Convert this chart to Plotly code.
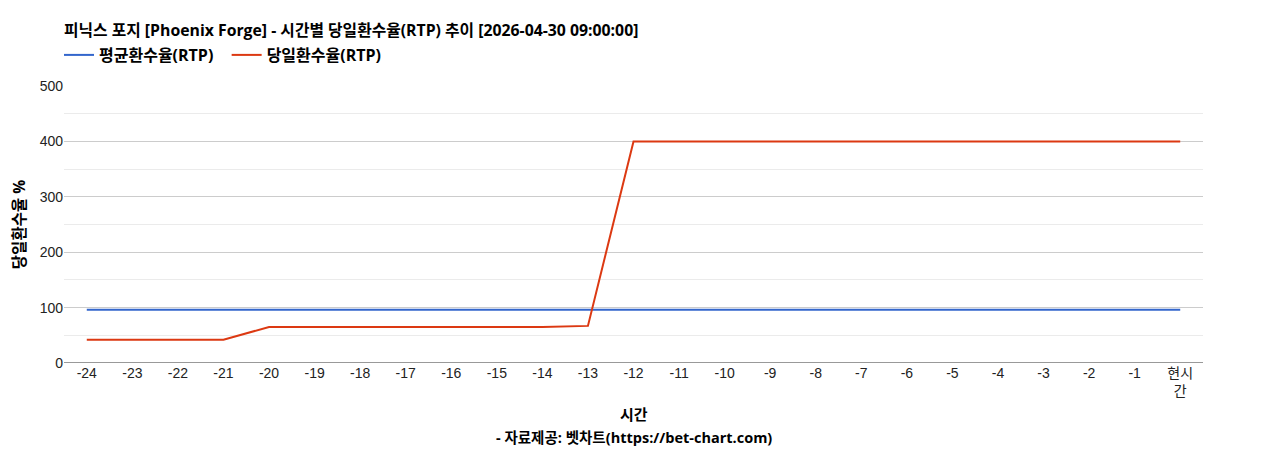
import plotly.graph_objects as go

# 시간 축 (24시간 전 ~ 현재)
hours = [str(h) for h in range(-24, 0)] + ['현시<br>간']

avg_rtp = [96] * 25
day_rtp = [42, 42, 42, 42, 65, 65, 65, 65, 65, 65, 65, 67,
           400, 400, 400, 400, 400, 400, 400, 400, 400, 400, 400, 400, 400]

FONT = 'Liberation Sans, Arial, Noto Sans CJK KR, sans-serif'
BOLD = 'Open Sans, Noto Sans CJK KR, sans-serif'

# 페이지 body 여백(8px) 보정
L, T, R, B = 56, 78, 1195, 355
H = B - T

fig = go.Figure()
fig.add_trace(go.Scatter(x=hours, y=avg_rtp, mode='lines', name='<b>평균환수율(RTP)</b>\u00a0\u00a0',
                         line=dict(color='#3366cc', width=2)))
fig.add_trace(go.Scatter(x=hours, y=day_rtp, mode='lines', name='<b>당일환수율(RTP)</b>',
                         line=dict(color='#dc3912', width=2)))

fig.update_layout(
    width=1268, height=450,
    margin=dict(l=L, r=1268 - R, t=T, b=450 - B),
    paper_bgcolor='white', plot_bgcolor='white',
    font=dict(family=FONT, size=14, color='#222222'),
    title=dict(text='<b>피닉스 포지 [Phoenix Forge] - 시간별 당일환수율(RTP) 추이 [2026-04-30 09:00:00]</b>',
               x=L / 1268, xanchor='left', y=1 - 22 / 450, yanchor='middle',
               font=dict(family=BOLD, size=15.8, color='#000000')),
    legend=dict(orientation='h', x=-5 / (R - L), xanchor='left', y=1 + 31 / H, yanchor='middle',
                font=dict(family=BOLD, size=16, color='#000000'), itemwidth=30, traceorder='normal'),
    showlegend=True,
)
fig.update_xaxes(type='category', range=[-0.5, 24.5], showgrid=False, showline=False,
                 ticks='', tickfont=dict(size=14, color='#222222'), automargin=False)
fig.update_yaxes(range=[0, 500], dtick=100, showgrid=True, gridcolor='#cccccc',
                 minor=dict(dtick=50, showgrid=True, gridcolor='#ebebeb'),
                 zeroline=False, showline=False, ticks='', automargin=False,
                 tickfont=dict(size=14, color='#222222'),
                 title=dict(text='<b>당일환수율 %</b>', standoff=13,
                            font=dict(family=BOLD, size=15.5, color='#000000')))
fig.add_shape(type='line', xref='paper', yref='y', x0=0, x1=1, y0=0, y1=0,
              line=dict(color='#333333', width=1))
fig.add_annotation(text='<b>시간</b>', xref='paper', yref='paper',
                   x=0.5, y=-51 / H, xanchor='center', yanchor='middle', showarrow=False,
                   font=dict(family=BOLD, size=15, color='#000000'))
fig.add_annotation(text='<b>- 자료제공: 벳차트(https://bet-chart.com)</b>', xref='paper', yref='paper',
                   x=0.5, y=-74 / H, xanchor='center', yanchor='middle', showarrow=False,
                   font=dict(family=BOLD, size=14.5, color='#000000'))

fig.write_html('out.html')
